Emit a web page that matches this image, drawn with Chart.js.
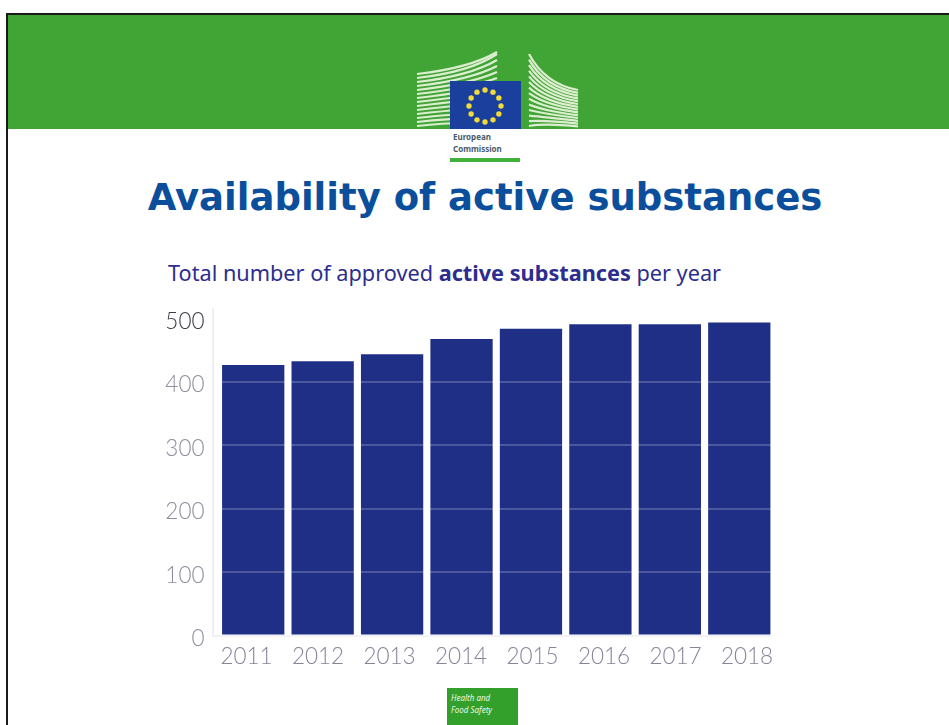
<!DOCTYPE html>
<html><head><meta charset="utf-8">
<script src="https://cdn.jsdelivr.net/npm/chart.js@4"></script>
<style>
html,body{margin:0;padding:0;background:#fff;width:949px;height:725px;overflow:hidden}
#page{position:relative;width:949px;height:725px;overflow:hidden;background:#fff}
#frame{position:absolute;left:6px;top:13px;width:950px;height:720px;border-left:2px solid #1a1a1a;border-top:2px solid #1a1a1a;box-sizing:border-box}
#band{position:absolute;left:8px;top:15px;width:941px;height:114px;background:#41a535}
#logo{position:absolute;left:0;top:0}
#title{position:absolute;left:0;top:176px;width:970px;text-align:center;font:bold 37px "DejaVu Sans";color:#0b4f9c;white-space:nowrap}
#sub{position:absolute;left:168px;top:258px;font:21.7px "Noto Sans";color:#2d2d8f;white-space:nowrap}
#sub b{font-weight:700}
#axis{position:absolute;left:212px;top:308px;width:2px;height:328px;background:#eeeef4}
#base{position:absolute;left:212px;top:635px;width:560px;height:2px;background:#f0f0f5}
#badge{position:absolute;left:447px;top:688px;width:71px;height:37px;background:#33a02c;color:#e8f6e4;font:italic 8px/12px "Noto Sans";padding:4px 0 0 4px;box-sizing:border-box}
canvas{position:absolute;left:0;top:0}
</style></head><body>
<div id="page">
<div id="frame"></div><div id="band"></div>
<svg id="logo" width="949" height="170">
<g id="bld" stroke="#dcedd0" stroke-width="2.2" fill="none"></g>
<rect x="450" y="81" width="71" height="48" fill="#1a3f9c"/>
<g id="stars" fill="#f2dc3c"></g>
<text x="453" y="140" font-family="Noto Sans" font-weight="700" font-size="8" fill="#4a5a6a">European</text>
<text x="453" y="152" font-family="Noto Sans" font-weight="700" font-size="8" fill="#4a5a6a">Commission</text>
<rect x="450" y="158" width="70" height="4" fill="#41b03a"/>
</svg>
<div id="title">Availability of active substances</div>
<div id="sub">Total number of approved <b>active substances</b> per year</div>
<div id="axis"></div><div id="base"></div>
<div id="badge">Health and<br>Food Safety</div>
<canvas id="c" width="949" height="725"></canvas>
</div>
<script>
const years = ['2011','2012','2013','2014','2015','2016','2017','2018'];
const approved = [426,432,443,467,483,490,490,493];
const yTicks = [0,100,200,300,400,500];

// decorative logo
const NS='http://www.w3.org/2000/svg';
const bld=document.getElementById('bld');
for(let i=0;i<14;i++){
  const y=74+i*4;
  const l=document.createElementNS(NS,'path');
  l.setAttribute('d',`M417 ${y} Q470 ${y-6} 497 ${Math.max(52,y-26+i*2)}`);
  bld.appendChild(l);
  const r=document.createElementNS(NS,'path');
  r.setAttribute('d',`M529 ${Math.min(126,54+i*5.6)} Q545 ${84+i*3} 578 ${90+i*2.8}`);
  bld.appendChild(r);
}
const st=document.getElementById('stars');
for(let i=0;i<12;i++){
  const a=i*Math.PI/6;
  const s=document.createElementNS(NS,'circle');
  s.setAttribute('cx',485+16*Math.cos(a));s.setAttribute('cy',106+16*Math.sin(a));s.setAttribute('r',2.7);
  st.appendChild(s);
}

// The photographed slide has its tick labels slightly offset from the marks:
// dedicated label axes are nudged after layout.
const labelAxes={
  id:'labelAxes',
  afterLayout(chart){
    const xl=chart.scales.xl, yl=chart.scales.yl;
    xl.left=210.75; xl.right=782.75; xl.width=572; xl.configure();
    yl.top+=3.5; yl.bottom+=3.5; yl.configure();
  }
};

new Chart(document.getElementById('c'),{
  type:'bar',
  data:{labels:years,datasets:[{data:approved,backgroundColor:'#1f2f85',borderWidth:0,barPercentage:0.897,categoryPercentage:1,xAxisID:'x',yAxisID:'y'}]},
  plugins:[labelAxes],
  options:{
    responsive:false,animation:false,
    layout:{padding:{left:158.5,top:318,right:175,bottom:725-635.5-40}},
    plugins:{legend:{display:false},title:{display:false},tooltip:{enabled:false}},
    scales:{
      x:{
        afterFit:s=>{s.height=0;},
        grid:{display:false},border:{display:false},ticks:{display:false}
      },
      xl:{
        type:'category',position:'bottom',labels:years,
        afterFit:s=>{s.height=40;},
        grid:{display:false},border:{display:false},
        ticks:{color:'#85859a',font:{family:'Lato',size:22.5,weight:'300'},padding:0,maxRotation:0,autoSkip:false}
      },
      y:{
        min:0,max:500,afterBuildTicks:s=>{s.ticks=yTicks.map(v=>({value:v}));},
        afterFit:s=>{s.width=0;},
        grid:{z:1,color:'rgba(255,255,255,0.2)',lineWidth:2,tickLength:5,drawTicks:false},
        border:{display:false},ticks:{display:false}
      },
      yl:{
        type:'linear',position:'left',
        min:0,max:500,afterBuildTicks:s=>{s.ticks=yTicks.map(v=>({value:v}));},
        afterFit:s=>{s.width=60;},
        grid:{display:false},border:{display:false},
        ticks:{color:c=>c.tick.value===500?'#3a3a44':'#8e8e9e',font:{family:'Lato',size:22.5,weight:'300'},padding:6}
      }
    }
  }
});
</script>
</body></html>
